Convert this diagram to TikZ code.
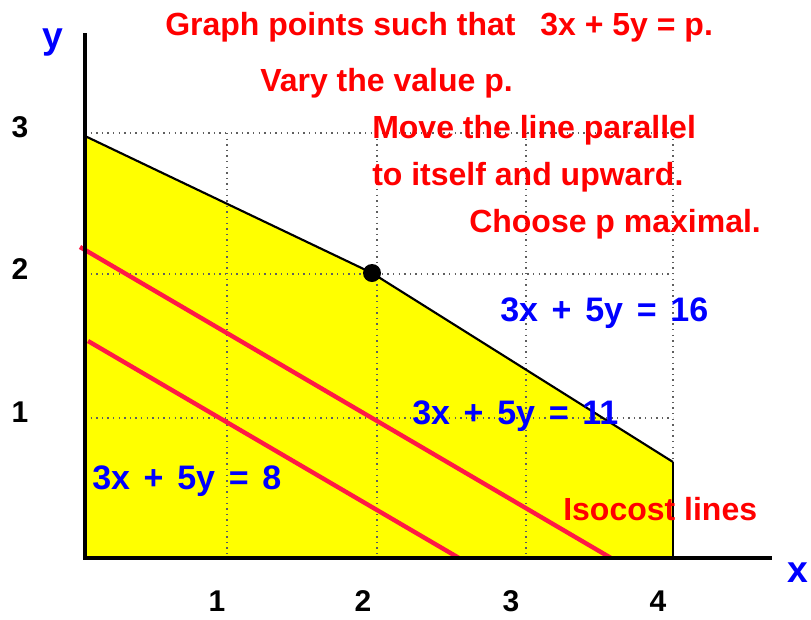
\documentclass[tikz,border=0pt]{standalone}
\usepackage{fontspec}
\setmainfont{Liberation Sans}
\newfontfamily\wideword[WordSpace=1.45]{Liberation Sans}
\definecolor{isored}{RGB}{255,25,70}
\definecolor{gridgray}{RGB}{95,95,95}
\definecolor{regionyellow}{RGB}{255,255,0}

\begin{document}
\begin{tikzpicture}[
    x=0.75pt,
    y=-0.75pt,
    note/.style={
        anchor=base west,
        inner sep=0pt,
        text=red,
        font=\fontsize{24}{28}\selectfont\bfseries
    },
    eqn/.style={
        anchor=base west,
        inner sep=0pt,
        text=blue,
        font=\wideword\fontsize{25.5}{30}\selectfont\bfseries
    },
    tick/.style={
        anchor=base,
        inner sep=0pt,
        font=\fontsize{22.5}{26}\selectfont\bfseries
    },
    axislabel/.style={
        anchor=base,
        inner sep=0pt,
        text=blue,
        font=\fontsize{28}{32}\selectfont\bfseries
    },
    gridline/.style={
        gridgray,
        line width=1.1pt,
        dash pattern=on 1.1pt off 3.1pt
    },
    axis/.style={
        line width=3.4pt
    },
    isoline/.style={
        isored,
        line width=3.3pt
    }
]

    \useasboundingbox (0,0) rectangle (811,619);

    \coordinate (O) at (85,558);
    \coordinate (Ytop) at (85,136);
    \coordinate (V) at (372,273);
    \coordinate (Rtop) at (673,462);
    \coordinate (Rbot) at (673,558);
    \coordinate (Yend) at (85,33);
    \coordinate (Xend) at (772,558);

    \fill[regionyellow] (O) -- (Ytop) -- (V) -- (Rtop) -- (Rbot) -- cycle;

    \foreach \gx in {227,377,526,673}
        \draw[gridline] (\gx,133) -- (\gx,558);
    \foreach \gy in {133,274,418}
        \draw[gridline] (85,\gy) -- (673,\gy);

    \coordinate (P11a) at (80,247);
    \coordinate (P11b) at (611,558);
    \coordinate (P8a) at (88,341);
    \coordinate (P8b) at (459,558);
    \draw[isoline] (P11a) -- (P11b);
    \draw[isoline] (P8a) -- (P8b);

    \draw[line width=1.6pt] (Ytop) -- (V) -- (Rtop);
    \draw[line width=2.2pt] (Rtop) -- (Rbot);
    \draw[axis] (Yend) -- (O) -- (Xend);

    \node[circle, fill=black, inner sep=0pt, minimum size=13.5pt] (opt) at (V) {};

    \node[axislabel] (ylab) at (53,48) {y};
    \node[axislabel] (xlab) at (798,582) {x};

    \node[tick] (y3) at (20,137) {3};
    \node[tick] (y2) at (20,279) {2};
    \node[tick] (y1) at (20,422) {1};
    \node[tick] (x1) at (217,611) {1};
    \node[tick] (x2) at (363,611) {2};
    \node[tick] (x3) at (511,611) {3};
    \node[tick] (x4) at (658,611) {4};

    \node[note] (title) at (165,35) {Graph points such that\hspace{12pt} 3x + 5y = p.};
    \node[note] (vary) at (260,91) {Vary the value p.};
    \node[note] (move) at (372,138) {Move the line parallel};
    \node[note] (upward) at (372,185) {to itself and upward.};
    \node[note] (choose) at (469,232) {Choose p maximal.};
    \node[note] (isocost) at (563,520) {Isocost lines};

    \node[eqn] (eq16) at (500,321) {3x + 5y = 16};
    \node[eqn] (eq11) at (412,424) {3x + 5y = 11};
    \node[eqn] (eq8) at (92,489) {3x + 5y = 8};

\end{tikzpicture}
\end{document}
